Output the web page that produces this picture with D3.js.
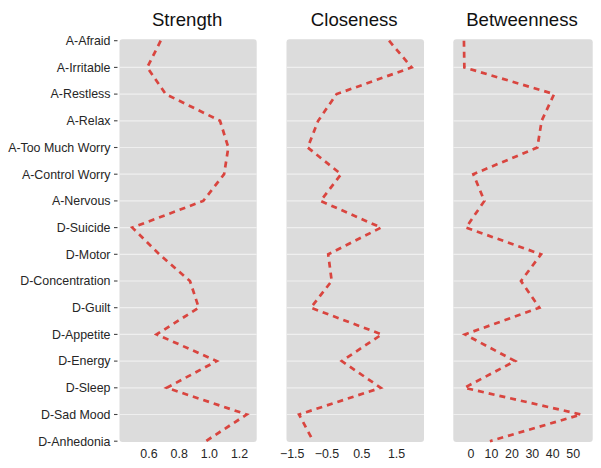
<!DOCTYPE html>
<html>
<head>
<meta charset="utf-8">
<script src="https://cdn.jsdelivr.net/npm/d3@7"></script>
<style>
  body { margin: 0; background: #fff; }
  svg { display: block; font-family: "Liberation Sans", Arial, sans-serif; }
</style>
</head>
<body>
<svg id="chart" width="601" height="468"></svg>
<script>
const categories = ["A-Afraid","A-Irritable","A-Restless","A-Relax","A-Too Much Worry","A-Control Worry","A-Nervous","D-Suicide","D-Motor","D-Concentration","D-Guilt","D-Appetite","D-Energy","D-Sleep","D-Sad Mood","D-Anhedonia"];
const strength = [0.681,0.592,0.714,1.074,1.129,1.101,0.963,0.493,0.672,0.875,0.933,0.654,1.052,0.721,1.251,0.979];
const closeness = [1.30,1.95,-0.21,-0.74,-1.04,-0.08,-0.67,1.07,-0.45,-0.35,-0.95,1.09,-0.06,1.06,-1.29,-0.88];
const betweenness = [-3.2,-3.0,40.9,34.8,32.7,1.4,6.8,-2.2,34.5,24.7,33.7,-2.7,21.8,-3.0,54.1,9.5];
const panelTitles = ["Strength","Closeness","Betweenness"];
const strengthTicks = [0.6,0.8,1.0,1.2];
const closenessTicks = [-1.5,-0.5,0.5,1.5];
const betweennessTicks = [0,10,20,30,40,50];

const panels = [
  {title: panelTitles[0], values: strength, ticks: strengthTicks, domain: [0.408, 1.317], x0: 119.5, x1: 256.7, fmt: d3.format(".1f")},
  {title: panelTitles[1], values: closeness, ticks: closenessTicks, domain: [-1.65, 2.305], x0: 286.5, x1: 424, fmt: d3.format(".1f")},
  {title: panelTitles[2], values: betweenness, ticks: betweennessTicks, domain: [-8.41, 59.78], x0: 453.3, x1: 592.7, fmt: d3.format("d")}
];

const svg = d3.select("#chart");
const panelTop = 39.3, panelBottom = 442;
const y = d3.scalePoint().domain(categories).range([40.7, 441.2]).padding(0);

// y axis labels
const yAxisG = svg.append("g");
categories.forEach(c => {
  yAxisG.append("text")
    .attr("x", 110.5).attr("y", y(c))
    .attr("dy", "0.35em")
    .attr("text-anchor", "end")
    .attr("font-size", 12.4)
    .attr("fill", "#262626")
    .text(c);
  yAxisG.append("line")
    .attr("x1", 114).attr("x2", 117.5)
    .attr("y1", y(c)).attr("y2", y(c))
    .attr("stroke", "#444").attr("stroke-width", 1.1);
});

panels.forEach(p => {
  const x = d3.scaleLinear().domain(p.domain).range([p.x0, p.x1]);
  const g = svg.append("g");
  g.append("rect")
    .attr("x", p.x0).attr("y", panelTop)
    .attr("width", p.x1 - p.x0).attr("height", panelBottom - panelTop)
    .attr("rx", 3).attr("ry", 3)
    .attr("fill", "#dcdcdc");
  categories.forEach((c, i) => {
    if (i === 0 || i === categories.length - 1) return;
    g.append("line")
      .attr("x1", p.x0).attr("x2", p.x1)
      .attr("y1", y(c)).attr("y2", y(c))
      .attr("stroke", "#efefef").attr("stroke-width", 1.2);
  });
  const line = d3.line().x(d => x(d[1])).y(d => y(d[0]));
  g.append("path")
    .datum(categories.map((c, i) => [c, p.values[i]]))
    .attr("d", line)
    .attr("fill", "none")
    .attr("stroke", "#d9453f")
    .attr("stroke-width", 2.7)
    .attr("stroke-dasharray", "6,5");
  // title
  g.append("text")
    .attr("x", (p.x0 + p.x1) / 2 - 1).attr("y", 26)
    .attr("text-anchor", "middle")
    .attr("font-size", 18.6)
    .attr("fill", "#111")
    .text(p.title);
  // x axis tick labels
  const ax = g.append("g").attr("transform", `translate(0,${panelBottom})`)
    .call(d3.axisBottom(x).tickValues(p.ticks).tickFormat(p.fmt).tickSize(0).tickPadding(7));
  ax.select(".domain").remove();
  ax.selectAll("text")
    .attr("font-size", 12.4)
    .attr("font-family", "Liberation Sans, Arial, sans-serif")
    .attr("fill", "#262626");
});
</script>
</body>
</html>
